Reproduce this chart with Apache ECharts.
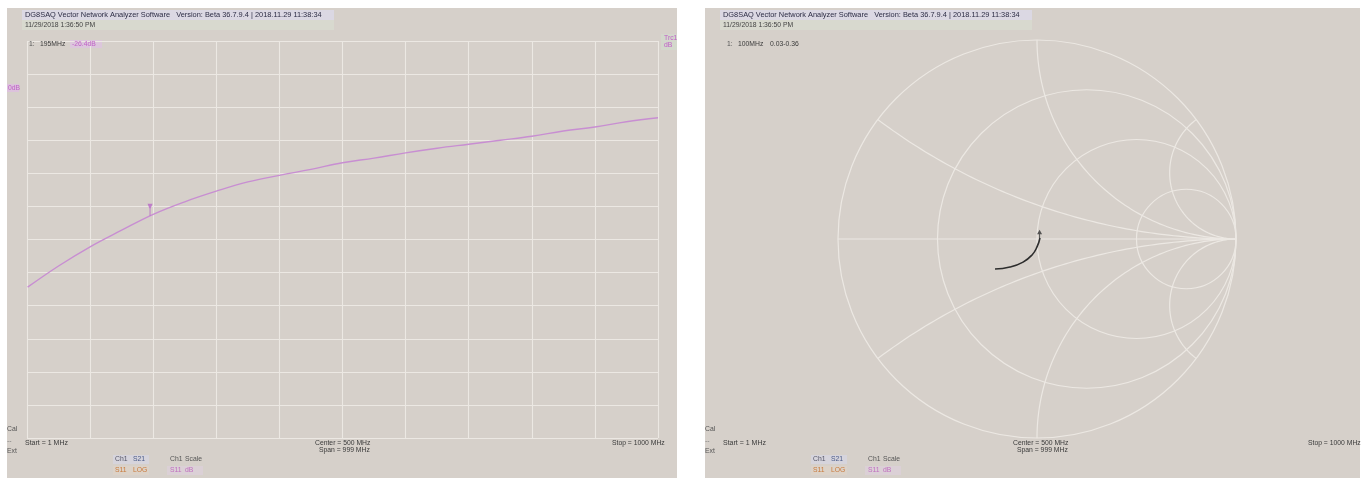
<!DOCTYPE html>
<html>
<head>
<meta charset="utf-8">
<script src="https://cdn.jsdelivr.net/npm/echarts@6/dist/echarts.min.js"></script>
<style>
html,body{margin:0;padding:0;background:#fff;}
#c{width:1364px;height:478px;}
</style>
</head>
<body>
<div id="c"></div>
<script>
// ---------- data ----------
const freqMHz = [1, 50, 100, 150, 200, 250, 300, 350, 400, 450, 500, 550, 600, 650, 700, 750, 800, 850, 900, 950, 1000];
const s21dB   = [-37.2, -34.0, -31.1, -28.6, -26.2, -24.3, -22.7, -21.3, -20.3, -19.4, -18.4, -17.7, -16.9, -16.2, -15.6, -15.0, -14.4, -13.6, -13.0, -12.2, -11.6];
const markerFreq = [195];
const markerDb = [-26.4];

// Smith chart trace (reflection coefficient, real / imaginary)
const s11Re = [-0.211, -0.136, -0.070, -0.025, 0.000, 0.015];
const s11Im = [-0.151, -0.141, -0.116, -0.080, -0.040, 0.005];
const smithMarker = [[0.013, 0.004]];

// Smith grid definition
const smithR = [0, 1/3, 1, 3];
const smithX = [1/3, 1, 3, -1/3, -1, -3];

// texts
const titleText = 'DG8SAQ Vector Network Analyzer Software   Version: Beta 36.7.9.4 | 2018.11.29 11:38:34';
const dateText = '11/29/2018 1:36:50 PM';
const startText = 'Start = 1 MHz';
const centerText = 'Center = 500 MHz';
const spanText = 'Span = 999 MHz';
const stopText = 'Stop = 1000 MHz';

// ---------- chart ----------
const chart = echarts.init(document.getElementById('c'), null, {renderer: 'canvas'});
const FONT = '"Liberation Sans", Arial, sans-serif';
const TXT = '#3a3a3a';
const GRIDC = '#ece8e3';

function txt(x, y, s, color, size) {
  return {
    type: 'text', x: x, y: y, z: 5,
    style: {text: s, fill: color || TXT, font: (size || 6.8) + 'px ' + FONT, textVerticalAlign: 'middle'}
  };
}
function rect(x, y, w, h, fill, z) {
  return {type: 'rect', z: z === undefined ? -10 : z, shape: {x: x, y: y, width: w, height: h}, style: {fill: fill}, silent: true};
}

function panelTexts(ox, markerFreqTxt, markerValTxt, markerValColor, markerBg) {
  const g = [];
  g.push(rect(ox + 15, 10, 312, 10, '#dbd8e3', -5));
  g.push(rect(ox + 15, 20, 312, 10, '#d8d9cf', -5));
  g.push(txt(ox + 18, 15, titleText, '#2c2c44', 7.4));
  g.push(txt(ox + 18, 25.5, dateText, '#444'));
  if (markerBg) g.push(rect(ox + 63, 40, 32, 8, markerBg, -5));
  g.push(txt(ox + 22, 44, '1:', '#555'));
  g.push(txt(ox + 33, 44, markerFreqTxt, TXT));
  g.push(txt(ox + 65, 44, markerValTxt, markerValColor));
  g.push(txt(ox + 0, 429, 'Cal', '#555'));
  g.push(txt(ox + 0, 441, '--', '#777'));
  g.push(txt(ox + 0, 451, 'Ext', '#555'));
  g.push(txt(ox + 18, 443, startText, TXT, 7));
  // legend
  g.push(rect(ox + 106, 455, 36, 9, '#d6d4dc', -5));
  g.push(rect(ox + 106, 466, 36, 9, '#dcd2c8', -5));
  g.push(rect(ox + 160, 466, 36, 9, '#dbd0d6', -5));
  g.push(txt(ox + 108, 459.5, 'Ch1', '#556'));
  g.push(txt(ox + 126, 459.5, 'S21', '#4a5a88'));
  g.push(txt(ox + 108, 470.5, 'S11', '#c97a3c'));
  g.push(txt(ox + 126, 470.5, 'LOG', '#c97a3c'));
  g.push(txt(ox + 163, 459.5, 'Ch1', '#555'));
  g.push(txt(ox + 178, 459.5, 'Scale', '#555'));
  g.push(txt(ox + 163, 470.5, 'S11', '#c070c0'));
  g.push(txt(ox + 178, 470.5, 'dB', '#c070c0'));
  return g;
}

const graphics = [];
graphics.push(rect(7, 8, 670, 470, '#d6d0ca'));
graphics.push(rect(705, 8, 655, 470, '#d6d0ca'));
panelTexts(7, '195MHz', '-26.4dB', '#c060c8', '#dcc6dc').forEach(e => graphics.push(e));
panelTexts(705, '100MHz', '0.03-0.36', TXT, null).forEach(e => graphics.push(e));
// left panel center / stop
graphics.push(txt(315, 443, centerText));
graphics.push(txt(319, 450, spanText));
graphics.push(txt(612, 443, stopText));
// right panel center / stop
graphics.push(txt(1013, 443, centerText));
graphics.push(txt(1017, 450, spanText));
graphics.push(txt(1308, 443, stopText));
// trace scale labels (left panel)
graphics.push(rect(7, 84, 12, 8, '#dcc2dc', -5));
graphics.push(txt(8, 88, '0dB', '#c060c8'));
graphics.push(rect(661, 34, 16, 16, '#d3d8cc', -5));
graphics.push(txt(664, 38, 'Trc1', '#c060c8'));
graphics.push(txt(664, 45, 'dB', '#c060c8'));

function smithGridRender(params, api) {
  const children = [];
  const stroke = {fill: 'none', stroke: GRIDC, lineWidth: 1.2};
  // resistance circles
  smithR.forEach(r => {
    const c = api.coord([r / (r + 1), 0]);
    const rad = api.size([1 / (r + 1), 0])[0];
    children.push({type: 'circle', shape: {cx: c[0], cy: c[1], r: rad}, style: stroke});
  });
  // real axis
  const a = api.coord([-1, 0]), b = api.coord([1, 0]);
  children.push({type: 'line', shape: {x1: a[0], y1: a[1], x2: b[0], y2: b[1]}, style: stroke});
  // reactance arcs
  smithX.forEach(x => {
    const ax = Math.abs(x), sg = Math.sign(x);
    const cx = 1, cy = 1 / ax, rad = 1 / ax;
    const px = (ax * ax - 1) / (ax * ax + 1), py = 2 * ax / (ax * ax + 1);
    const a1 = -Math.PI / 2;
    let a2 = Math.atan2(py - cy, px - cx);
    if (a2 > a1) a2 -= 2 * Math.PI;
    const pts = [];
    const n = 80;
    for (let i = 0; i <= n; i++) {
      const t = a1 + (a2 - a1) * i / n;
      pts.push(api.coord([cx + rad * Math.cos(t), sg * (cy + rad * Math.sin(t))]));
    }
    children.push({type: 'polyline', shape: {points: pts}, style: stroke});
  });
  return {type: 'group', children: children};
}

const option = {
  animation: false,
  backgroundColor: '#ffffff',
  graphic: graphics,
  grid: [
    {left: 27, top: 41, width: 631, height: 397, containLabel: false},
    {left: 838, top: 40, width: 398, height: 398, containLabel: false}
  ],
  xAxis: [
    {gridIndex: 0, type: 'value', min: 0, max: 1000, interval: 100,
     axisLine: {show: false}, axisTick: {show: false}, axisLabel: {show: false},
     splitLine: {show: true, lineStyle: {color: GRIDC, width: 1.1}}},
    {gridIndex: 1, type: 'value', min: -1, max: 1, show: false}
  ],
  yAxis: [
    {gridIndex: 0, type: 'value', min: -60, max: 0, interval: 5,
     axisLine: {show: false}, axisTick: {show: false}, axisLabel: {show: false},
     splitLine: {show: true, lineStyle: {color: GRIDC, width: 1.1}}},
    {gridIndex: 1, type: 'value', min: -1, max: 1, show: false}
  ],
  series: [
    {
      type: 'line', xAxisIndex: 0, yAxisIndex: 0,
      data: freqMHz.map((f, i) => [f, s21dB[i]]),
      smooth: 0.4, showSymbol: false, silent: true,
      lineStyle: {color: '#c88ed2', width: 1.4}, z: 3
    },
    {
      type: 'scatter', xAxisIndex: 0, yAxisIndex: 0,
      data: markerFreq.map((f, i) => [f, markerDb[i]]),
      symbol: 'path://M0,0 L6,0 L3.6,6 L3.6,14 L2.4,14 L2.4,6 Z',
      symbolSize: [5, 12], symbolOffset: [0, -6],
      itemStyle: {color: '#b868c8'}, silent: true, z: 4
    },
    {
      type: 'custom', xAxisIndex: 1, yAxisIndex: 1,
      data: [[0, 0]], renderItem: smithGridRender, silent: true, clip: false, z: 1
    },
    {
      type: 'line', xAxisIndex: 1, yAxisIndex: 1,
      data: s11Re.map((r, i) => [r, s11Im[i]]),
      smooth: 0.5, showSymbol: false, silent: true,
      lineStyle: {color: '#2d2d2d', width: 1.6}, z: 3
    },
    {
      type: 'scatter', xAxisIndex: 1, yAxisIndex: 1,
      data: smithMarker,
      symbol: 'path://M3,0 L6,6 L3.6,6 L3.6,12 L2.4,12 L2.4,6 L0,6 Z',
      symbolSize: [5, 9], symbolOffset: [0, -4],
      itemStyle: {color: '#333'}, silent: true, z: 4
    }
  ]
};
chart.setOption(option);
</script>
</body>
</html>
